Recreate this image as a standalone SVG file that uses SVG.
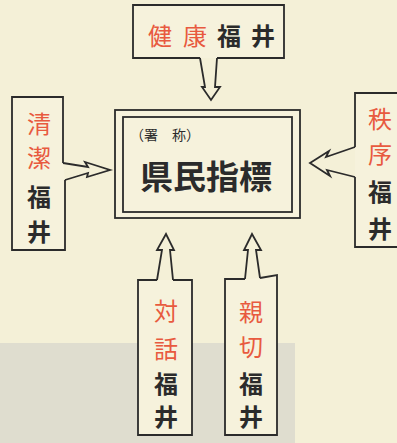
<svg xmlns="http://www.w3.org/2000/svg" width="397" height="443" viewBox="0 0 397 443">
<style>
.ln{fill:none;stroke:#2b2b2b;stroke-width:1.8;stroke-linejoin:miter}
.bx{fill:#f6f2dc;stroke:#2b2b2b;stroke-width:1.8}
.r{font-family:"Noto Sans CJK JP",sans-serif;font-size:24px;fill:#e85a3f;text-anchor:middle;dominant-baseline:central}
.k{font-family:"Noto Sans CJK JP",sans-serif;font-size:24px;font-weight:bold;fill:#2b2b2b;text-anchor:middle;dominant-baseline:central}
</style>
<rect width="397" height="443" fill="#f4f0d7"/>
<rect x="0" y="343" width="295" height="100" fill="#dfddcf"/>
<g id="center">
<rect x="115" y="110" width="185" height="108" class="bx"/>
<rect x="123" y="117" width="169" height="95" class="ln"/>
<text x="130" y="134" font-family="Noto Sans CJK JP,sans-serif" font-size="14" fill="#2b2b2b" dominant-baseline="central">（署　称）</text>
<text x="140" y="175" font-family="Noto Sans CJK JP,sans-serif" font-size="33" font-weight="bold" fill="#2b2b2b" dominant-baseline="central">県民指標</text>
</g>
<g id="kenko">
<path class="bx" d="M217,58 H284 V5 H133 V58 H200"/>
<text class="r" x="160" y="34">健</text><text class="r" x="195" y="34">康</text>
<text class="k" x="229" y="34">福</text><text class="k" x="263" y="34">井</text>
</g>
<g id="seiketsu">
<path class="bx" d="M65,180 V250 H12 V97 H63 V163"/>
<text class="r" x="39" y="122">清</text><text class="r" x="39" y="156">潔</text>
<text class="k" x="39" y="195">福</text><text class="k" x="39" y="230">井</text>
</g>
<g id="chitsujo">
<path class="bx" d="M355,177 V247 H400 V93 H355 V147"/>
<text class="r" x="380" y="117">秩</text><text class="r" x="380" y="152">序</text>
<text class="k" x="380" y="190">福</text><text class="k" x="380" y="227">井</text>
</g>
<g id="taiwa">
<path class="bx" d="M173,280 H192 V435 H138 V280 H157"/>
<text class="r" x="166" y="309">対</text><text class="r" x="166" y="347">話</text>
<text class="k" x="166" y="382">福</text><text class="k" x="166" y="415">井</text>
</g>
<g id="shinsetsu">
<path class="bx" d="M260,278 L277,275 V435 H225 V279 H245"/>
<text class="r" x="251" y="310">親</text><text class="r" x="251" y="345">切</text>
<text class="k" x="251" y="382">福</text><text class="k" x="251" y="415">井</text>
</g>
<g id="connectors">
<path class="ln" d="M200,58 L205,87 H202 L211,100 L220,87 H215 L217,58"/>
<path class="ln" d="M63,163 L88,167 L85,162 L110,170 L87,177 L88,173 L65,180"/>
<path class="ln" d="M355,147 L326,157 L329,151 L310,163 L330,176 L327,170 L355,177"/>
<path class="ln" d="M157,280 L162,250 H157 L166,234 L174,250 H170 L173,280"/>
<path class="ln" d="M245,279 L248,250 H244 L252,234 L261,250 H256 L260,278"/>
</g>
</svg>
